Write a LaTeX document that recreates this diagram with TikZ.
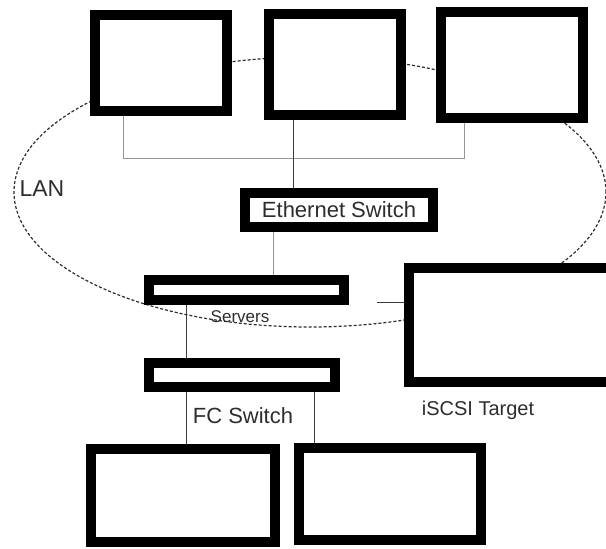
\documentclass[tikz,border=0pt]{standalone}
\usepackage{fontspec}
\setmainfont{Liberation Sans}
\usetikzlibrary{positioning,calc,backgrounds}
\definecolor{wiregray}{RGB}{150,150,150}
\definecolor{wiredark}{RGB}{60,60,60}
\definecolor{inkgray}{RGB}{45,45,45}

\tikzset{
  hostbox/.style={draw=black, fill=white, line width=10pt, inner sep=0pt},
  wire/.style={draw=wiredark, line width=1pt},
  lightwire/.style={draw=wiregray, line width=1pt},
  lbl/.style={font=\fontsize{22}{24}\selectfont, text=inkgray}
}

\begin{document}
\begin{tikzpicture}[x=1pt, y=-1pt]
    \clip (0,0) rectangle (606,549);
    % LAN
    \draw[inkgray, line width=1.2pt, dash pattern=on 3pt off 2pt]
      (310,192) ellipse [x radius=296pt, y radius=135pt];
    % hosts on the LAN
    \foreach \n/\x/\y/\w/\h in {A/161/63/132/96, B/335/64.5/132/101, C/512/65/142/106}{
      \node[hostbox, minimum width=\w pt, minimum height=\h pt] (host\n) at (\x,\y) {};
    }
    \node[hostbox, lbl, minimum width=188pt, minimum height=34pt] (ethsw) at (339,210) {Ethernet Switch};
    \node[hostbox, minimum width=195pt, minimum height=20pt] (servers) at (246.5,290) {};
    \node[hostbox, minimum width=210pt, minimum height=114pt] (iscsi) at (514,325) {};
    \node[hostbox, minimum width=186pt, minimum height=24pt] (fcsw) at (242,375) {};
    % storage behind the FC switch
    \node[hostbox, minimum width=184pt, minimum height=93pt] (diskA) at (183,495.5) {};
    \node[hostbox, minimum width=182pt, minimum height=92pt] (diskB) at (390,494) {};

    \node[lbl, font=\fontsize{23}{25}\selectfont, anchor=west] (lanlbl) at (16,189) {LAN};
    \node[lbl, font=\fontsize{17}{19}\selectfont] (srvlbl) at (240,317) {Servers};
    \node[lbl] (fclbl) at (243,416) {FC Switch};
    \node[lbl, font=\fontsize{20}{22}\selectfont] (tgtlbl) at (478,410) {iSCSI Target};

    \coordinate (busL) at (123,158);
    \coordinate (busR) at (464,158);
    \coordinate (tgtstub) at (377,302);
    \begin{pgfonlayer}{background}
      \draw[lightwire] (busL |- hostA.south) -- (busL) -- (busR) -- (busR |- hostC.south);
      \draw[wire] ([xshift=-42pt]hostB.south) -- ([xshift=-42pt]hostB.south |- ethsw.north);
      \draw[lightwire] ([xshift=-66pt]ethsw.south) -- ([xshift=-66pt]ethsw.south |- servers.north);
      \draw[wire] ([xshift=-60.5pt]servers.south) -- ([xshift=-60.5pt]servers.south |- fcsw.north);
      \draw[wire] ([xshift=-56pt]fcsw.south) -- ([xshift=-56pt]fcsw.south |- diskA.north);
      \draw[wire] ([xshift=72pt]fcsw.south) -- ([xshift=72pt]fcsw.south |- diskB.north);
      \draw[wire] (tgtstub) -- (tgtstub -| iscsi.west);
    \end{pgfonlayer}
\end{tikzpicture}
\end{document}
